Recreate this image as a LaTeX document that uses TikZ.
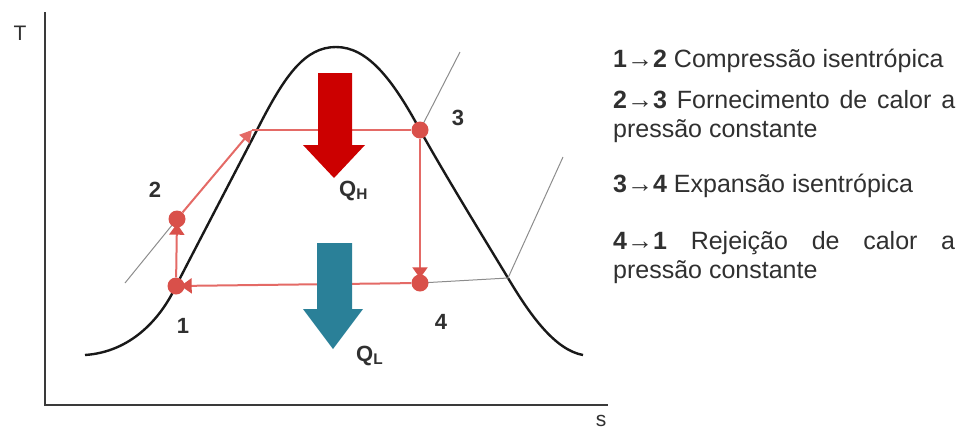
\documentclass[tikz,border=0pt]{standalone}
\usepackage{fontspec}
\setmainfont{Liberation Sans}
\usetikzlibrary{arrows.meta}
\definecolor{cycred}{HTML}{E46A66}
\definecolor{dotred}{HTML}{D9504A}
\definecolor{heatred}{HTML}{CC0000}
\definecolor{coldblue}{HTML}{2A8098}
\definecolor{linegray}{HTML}{8C8C8C}
\definecolor{axisc}{HTML}{3A3A3A}
\definecolor{txt}{HTML}{303030}
\newcommand{\legarrow}{{\fontsize{26}{26}\selectfont→}}
\begin{document}
\begin{tikzpicture}[x=1pt,y=-1pt,
  cyc/.style={draw=cycred, line width=2pt},
  tipped/.style={-{Triangle[length=11pt,width=15pt,color=dotred]}, shorten >=-4pt},
  dotn/.style={circle, fill=dotred, inner sep=0pt, minimum size=17pt},
  graylin/.style={draw=linegray, line width=1pt},
  axisl/.style={draw=axisc, line width=2.4pt},
  curvel/.style={draw=black!90, line width=2.4pt},
  lbl/.style={font=\bfseries\fontsize{22}{22}\selectfont, text=txt, inner sep=0pt},
  axlbl/.style={font=\fontsize{21}{21}\selectfont, text=txt, inner sep=0pt},
  legend/.style={text width=342pt, align=justify, anchor=base west, inner sep=0pt, font=\fontsize{25}{29}\selectfont, text=txt}
]
\useasboundingbox (0,0) rectangle (967,432);
% axes
\coordinate (origin) at (45,405);
\coordinate (ytop) at (45,12);
\coordinate (xend) at (608,405);
\draw[axisl] (ytop) -- (origin) -- (xend);
\node[axlbl] (tlab) at (20,33) {T};
\node[axlbl] (slab) at (601,421) {s};
% saturation dome
\draw[curvel] (85,355) .. controls (130,352) and (160,320) .. (176,286)
  .. controls (197,245) and (240,163) .. (258,128)
  .. controls (285,75) and (305,47) .. (336,47)
  .. controls (367,47) and (392,78) .. (420,130)
  .. controls (445,175) and (485,240) .. (508,278)
  .. controls (530,315) and (555,350) .. (583,355);
% state points
\coordinate (p1) at (176,286);
\coordinate (p2) at (177,219);
\coordinate (pc) at (252,130);
\coordinate (p3) at (420,130);
\coordinate (p4) at (420,283);
\coordinate (g1) at (125,283);
\coordinate (g2) at (460,52);
\coordinate (g3) at (508,278);
\coordinate (g4) at (563,157);
% gray constant-pressure lines
\draw[graylin] (g1) -- (p2);
\draw[graylin] (p3) -- (g2);
\draw[graylin] (p4) -- (g3) -- (g4);
% dots
\node[dotn] (d1) at (p1) {};
\node[dotn] (d2) at (p2) {};
\node[dotn] (d3) at (p3) {};
\node[dotn] (d4) at (p4) {};
% cycle
\draw[cyc, tipped] (d1) -- (d2);
\draw[cyc, -{Triangle[length=12pt,width=13pt]}] (d2) -- (pc);
\draw[cyc] (pc) -- (d3);
\draw[cyc, tipped] (d3) -- (d4);
\draw[cyc, tipped] (d4) -- (d1);
% heat arrows
\fill[heatred] (318,73) -- (352,73) -- (352,145) -- (365,145) -- (334,178) -- (303,145) -- (318,145) -- cycle;
\fill[coldblue] (317,243) -- (352,243) -- (352,309) -- (363,309) -- (333,349) -- (303,309) -- (317,309) -- cycle;
% labels
\node[lbl] (l1) at (183,326) {1};
\node[lbl] (l2) at (155,190) {2};
\node[lbl] (l3) at (458,118) {3};
\node[lbl] (l4) at (441,322) {4};
\node[lbl, anchor=west] (qh) at (339,191) {Q\textsubscript{H}};
\node[lbl, anchor=west] (ql) at (356,356) {Q\textsubscript{L}};
% legend
\node[legend] (t1) at (613,67) {\textbf{1}\legarrow\textbf{2} Compressão isentrópica};
\node[legend] (t2) at (613,108) {\textbf{2}\legarrow\textbf{3} Fornecimento de calor a\linebreak pressão constante};
\node[legend] (t3) at (613,192) {\textbf{3}\legarrow\textbf{4} Expansão isentrópica};
\node[legend] (t4) at (613,249) {\textbf{4}\legarrow\textbf{1} Rejeição de calor a\linebreak pressão constante};
\end{tikzpicture}
\end{document}
